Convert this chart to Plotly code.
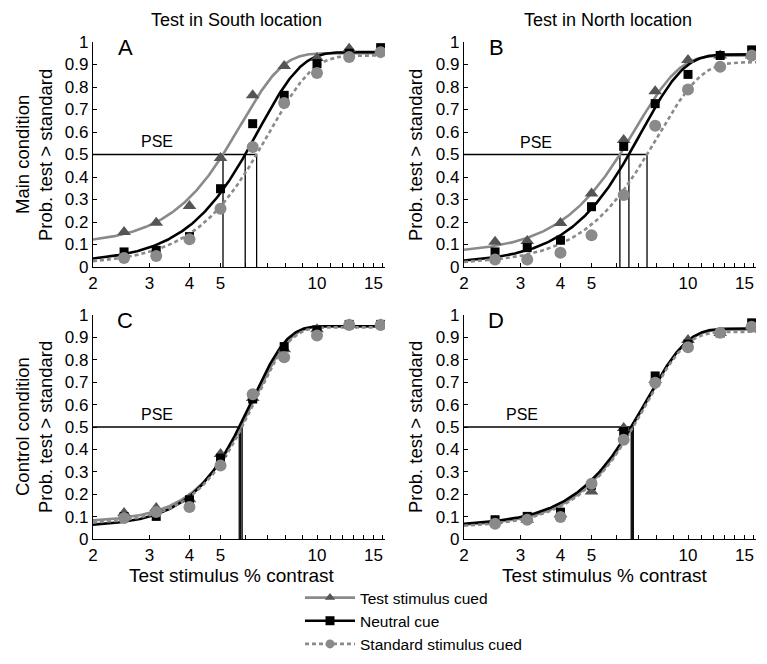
import numpy as np
import plotly.graph_objects as go

# ---------------- data ----------------
contrast = [2.5, 3.15, 4.0, 5.0, 6.3, 7.9, 10.0, 12.6, 15.8]
conditions = ["Test stimulus cued", "Neutral cue", "Standard stimulus cued"]

# panel A: main condition, test in South location
A_test = [0.156, 0.197, 0.271, 0.484, 0.763, 0.893, 0.929, 0.97, 0.96]
A_neutral = [0.067, 0.074, 0.135, 0.348, 0.637, 0.763, 0.904, 0.95, 0.975]
A_standard = [0.040, 0.049, 0.123, 0.259, 0.533, 0.729, 0.862, 0.933, 0.955]
# panel B: main condition, test in North location
B_test = [0.112, 0.116, 0.196, 0.327, 0.565, 0.781, 0.920, 0.940, 0.94]
B_neutral = [0.067, 0.086, 0.119, 0.268, 0.536, 0.726, 0.856, 0.94, 0.965]
B_standard = [0.033, 0.033, 0.063, 0.141, 0.320, 0.628, 0.789, 0.890, 0.940]
# panel C: control condition, test in South location
C_test = [0.116, 0.138, 0.178, 0.380, 0.630, 0.847, 0.936, 0.958, 0.958]
C_neutral = [0.100, 0.101, 0.175, 0.361, 0.625, 0.859, 0.933, 0.958, 0.958]
C_standard = [0.094, 0.120, 0.143, 0.328, 0.646, 0.811, 0.908, 0.955, 0.955]
# panel D: control condition, test in North location
D_test = [0.080, 0.086, 0.110, 0.212, 0.495, 0.710, 0.888, 0.920, 0.950]
D_neutral = [0.086, 0.101, 0.120, 0.240, 0.480, 0.728, 0.870, 0.920, 0.965]
D_standard = [0.068, 0.086, 0.098, 0.247, 0.443, 0.698, 0.856, 0.921, 0.948]

# fitted Weibull psychometric functions: [guess rate, upper asymptote, PSE, slope]
A_fits = [[0.10, 0.95, 5.09, 3.4], [0.02, 0.955, 5.97, 3.3], [0.01, 0.94, 6.48, 3.2]]
B_fits = [[0.06, 0.94, 6.13, 3.2], [0.015, 0.945, 6.54, 3.3], [0.012, 0.91, 7.45, 3.2]]
C_fits = [[0.075, 0.95, 5.78, 4.0], [0.055, 0.95, 5.72, 4.0], [0.065, 0.945, 5.84, 4.0]]
D_fits = [[0.055, 0.935, 6.70, 3.5], [0.058, 0.94, 6.65, 3.4], [0.05, 0.925, 6.75, 3.5]]

x_tickvals = [2, 3, 4, 5, 10, 15]
x_minor = [6, 7, 8, 9, 11, 12, 13, 14, 16]
y_tickvals = [0, 0.1, 0.2, 0.3, 0.4, 0.5, 0.6, 0.7, 0.8, 0.9, 1]
y_ticktext = ["0", "0.1", "0.2", "0.3", "0.4", "0.5", "0.6", "0.7", "0.8", "0.9", "1"]

# ---------------- style ----------------
OFF = 8                      # page body margin
W, H = 767 - 2 * OFF, 664 - 2 * OFF
FONT = "Liberation Sans, Arial, sans-serif"
GRAY = "#8a8a8a"
line_styles = [dict(color=GRAY, width=2.6),
               dict(color="#000000", width=2.6),
               dict(color=GRAY, width=2.6, dash="4px,3px")]
marker_styles = [dict(symbol="triangle-up", size=12, color="#555555"),
                 dict(symbol="square", size=9, color="#000000"),
                 dict(symbol="circle", size=12, color=GRAY)]

XMIN, XMAX = 2.0, 16.3

def px_x(p):
    return (p - OFF) / W

def px_y(p):
    return 1 - (p - OFF) / H

panels = [
    dict(name="A", data=[A_test, A_neutral, A_standard], fits=A_fits,
         xd=[93, 385], yd=[42, 267], pse_pos=(0.218, 0.56)),
    dict(name="B", data=[B_test, B_neutral, B_standard], fits=B_fits,
         xd=[464, 756], yd=[42, 267], pse_pos=(0.247, 0.552)),
    dict(name="C", data=[C_test, C_neutral, C_standard], fits=C_fits,
         xd=[93, 385], yd=[315, 539], pse_pos=(0.218, 0.555)),
    dict(name="D", data=[D_test, D_neutral, D_standard], fits=D_fits,
         xd=[464, 756], yd=[315, 539], pse_pos=(0.2, 0.555)),
]

def weibull(x, g, top, pse, beta):
    f_pse = (0.5 - g) / (top - g)
    alpha = pse / (-np.log(1 - f_pse)) ** (1.0 / beta)
    return g + (top - g) * (1 - np.exp(-(x / alpha) ** beta))

fig = go.Figure()
xs = np.logspace(np.log10(XMIN), np.log10(XMAX), 300)

for i, p in enumerate(panels):
    k = "" if i == 0 else str(i + 1)
    xa, ya = "x" + k, "y" + k
    pses = [f[2] for f in p["fits"]]
    # PSE guide lines
    fig.add_trace(go.Scatter(x=[XMIN, max(pses)], y=[0.5, 0.5], mode="lines",
                             line=dict(color="black", width=1.3),
                             xaxis=xa, yaxis=ya, showlegend=False, hoverinfo="skip"))
    for v in pses:
        fig.add_trace(go.Scatter(x=[v, v], y=[0, 0.5], mode="lines",
                                 line=dict(color="black", width=1.3),
                                 xaxis=xa, yaxis=ya, showlegend=False, hoverinfo="skip"))
    # fitted curves
    for j, f in enumerate(p["fits"]):
        fig.add_trace(go.Scatter(x=xs, y=weibull(xs, *f), mode="lines",
                                 line=line_styles[j], xaxis=xa, yaxis=ya,
                                 showlegend=False, hoverinfo="skip"))
    # data points
    for j, vals in enumerate(p["data"]):
        fig.add_trace(go.Scatter(x=contrast, y=vals, mode="markers",
                                 marker=marker_styles[j], xaxis=xa, yaxis=ya,
                                 showlegend=False, name=conditions[j]))
    axis_common = dict(showline=True, linecolor="black", linewidth=1.3,
                       mirror=False, showgrid=False, zeroline=False, automargin=False,
                       ticks="inside", ticklen=4, tickcolor="black",
                       tickfont=dict(family=FONT, size=17, color="black"))
    fig.layout["xaxis" + k] = dict(
        domain=[px_x(p["xd"][0]), px_x(p["xd"][1])], anchor=ya,
        type="log", range=[np.log10(XMIN), np.log10(XMAX)],
        tickmode="array", tickvals=x_tickvals, ticktext=[str(t) for t in x_tickvals],
        minor=dict(tickmode="array", tickvals=x_minor, ticks="inside", ticklen=4,
                   tickcolor="black", showgrid=False),
        **axis_common)
    fig.layout["yaxis" + k] = dict(
        domain=[px_y(p["yd"][1]), px_y(p["yd"][0])], anchor=xa,
        range=[0, 1], tickmode="array", tickvals=y_tickvals, ticktext=y_ticktext,
        **axis_common)
    # panel letter
    fig.add_annotation(text=p["name"], xref=xa + " domain", yref=ya + " domain",
                       x=0.11, y=0.975, xanchor="center", yanchor="middle",
                       showarrow=False,
                       font=dict(family=FONT, size=22, color="black"))
    fig.add_annotation(text="PSE", xref=xa + " domain", yref=ya + " domain",
                       x=p["pse_pos"][0], y=p["pse_pos"][1],
                       xanchor="center", yanchor="middle", showarrow=False,
                       font=dict(family=FONT, size=16, color="black"))

# legend-only entries
for j, name in enumerate(conditions):
    fig.add_trace(go.Scatter(x=[None], y=[None], mode="lines+markers", name=name,
                             line=line_styles[j],
                             marker=dict(symbol=marker_styles[j]["symbol"], size=9,
                                         color=marker_styles[j]["color"]),
                             showlegend=True))

# column titles
for xp, txt in [(236, "Test in South location"), (608, "Test in North location")]:
    fig.add_annotation(text=txt, xref="paper", yref="paper",
                       x=px_x(xp), y=1.0, xanchor="center", yanchor="top",
                       showarrow=False, font=dict(family=FONT, size=18, color="black"))
# y titles
for (xp, yp, txt) in [(22, 155, "Main condition"), (45, 155, "Prob. test > standard"),
                      (415, 155, "Prob. test > standard"),
                      (22, 427, "Control condition"), (45, 427, "Prob. test > standard"),
                      (415, 427, "Prob. test > standard")]:
    fig.add_annotation(text=txt, xref="paper", yref="paper", x=px_x(xp), y=px_y(yp),
                       xanchor="center", yanchor="middle",
                       textangle=-90, showarrow=False,
                       font=dict(family=FONT, size=18.5, color="black"))
# x titles
for xp in [232, 605]:
    fig.add_annotation(text="Test stimulus % contrast", xref="paper", yref="paper",
                       x=px_x(xp), y=px_y(575), xanchor="center", yanchor="middle",
                       showarrow=False,
                       font=dict(family=FONT, size=19, color="black"))

fig.update_layout(
    width=W, height=H, margin=dict(l=0, r=0, t=0, b=0, autoexpand=False),
    plot_bgcolor="white", paper_bgcolor="white",
    legend=dict(x=px_x(300), y=px_y(581), xanchor="left", yanchor="top",
                font=dict(family=FONT, size=15.5, color="black"),
                bgcolor="rgba(0,0,0,0)", itemwidth=50, tracegroupgap=0),
    showlegend=True,
)

fig.write_html("out.html")
